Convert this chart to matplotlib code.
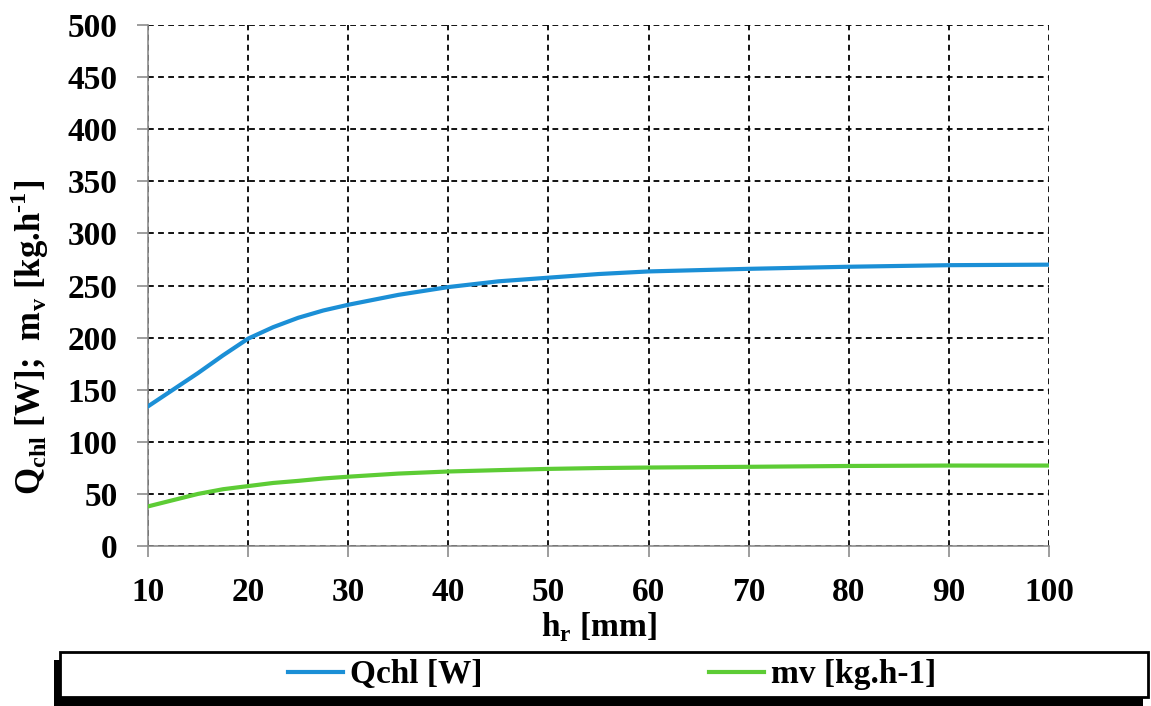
import matplotlib
matplotlib.use("Agg")
import matplotlib.pyplot as plt
from matplotlib.patches import Rectangle

# values
hr = [10, 12.5, 15, 17.5, 20, 22.5, 25, 27.5, 30, 35, 40, 45, 50, 55, 60, 70, 80, 90, 100]
qchl = [134, 150, 166, 183, 199, 210, 219, 226, 231.5, 241, 248.5, 254, 257.5, 261, 263.5, 266, 268, 269.5, 270]
mv = [38, 44, 50, 54.5, 57.5, 60.5, 62.5, 64.8, 66.5, 69.5, 71.5, 72.8, 74, 74.8, 75.3, 76, 76.8, 77.2, 77.2]

xticks = [10, 20, 30, 40, 50, 60, 70, 80, 90, 100]
yticks = [0, 50, 100, 150, 200, 250, 300, 350, 400, 450, 500]

blue = "#1b8fd6"
green = "#5dcc35"

plt.rcParams['font.family'] = ['Liberation Serif', 'DejaVu Serif']
plt.rcParams['font.weight'] = 'bold'
plt.rcParams['mathtext.fontset'] = 'custom'
plt.rcParams['mathtext.rm'] = 'Liberation Serif:bold'
plt.rcParams['mathtext.bf'] = 'Liberation Serif:bold'

fig = plt.figure(figsize=(11.51, 7.06), dpi=100)
ax = fig.add_axes([148 / 1151, 1 - 546 / 706, (1049 - 148) / 1151, (546 - 25) / 706])

l1, = ax.plot(hr, qchl, color=blue, lw=3, label="Qchl [W]", zorder=3)
l2, = ax.plot(hr, mv, color=green, lw=3, label="mv [kg.h-1]", zorder=3)

ax.set_xlim(10, 100)
ax.set_ylim(0, 500)
ax.set_xticks(xticks)
ax.set_yticks(yticks)
ax.grid(True, color="black", linestyle=(0, (3.2, 2.4)), linewidth=1.3)
ax.set_axisbelow(True)

for s in ["top", "right"]:
    ax.spines[s].set_visible(False)
for s in ["left", "bottom"]:
    ax.spines[s].set_color("#8c8c8c")
    ax.spines[s].set_linewidth(1.2)

ax.tick_params(axis="both", colors="#8c8c8c", length=8, width=1.2, labelsize=24,
               labelcolor="black")
ax.tick_params(axis="y", pad=14)
ax.tick_params(axis="x", pad=14)
for t in ax.get_xticklabels() + ax.get_yticklabels():
    t.set_fontweight("bold")

ax.set_xlabel(r"h$_{\mathregular{r}}$ [mm]", fontsize=24, fontweight="bold", labelpad=2)
ax.set_ylabel(r"Q$_{\mathregular{chl}}$ [W];  m$_{\mathregular{v}}$ [kg.h$^{\text{-1}}$]",
              fontsize=25, fontweight="bold")
ax.yaxis.set_label_coords(-0.108, 0.4)

# legend box with shadow
W, H = 1151, 706
fig.patches.append(Rectangle((54 / W, 0), (1143 - 54) / W, (706 - 660) / H,
                             transform=fig.transFigure, facecolor="black",
                             edgecolor="none", zorder=1))
fig.patches.append(Rectangle((60 / W, 1 - 697 / H), (1148 - 60) / W, 45 / H,
                             transform=fig.transFigure, facecolor="white",
                             edgecolor="black", linewidth=2, zorder=2))

leg = fig.legend(handles=[l1, l2], loc="center", bbox_to_anchor=(612 / W, 1 - 675 / H),
                 ncol=2, frameon=False, fontsize=24, handlelength=1.65,
                 handletextpad=0.2, columnspacing=6.8, borderaxespad=0)
leg.set_zorder(5)
for t in leg.get_texts():
    t.set_fontweight("bold")

fig.savefig("out.png", dpi=100)
